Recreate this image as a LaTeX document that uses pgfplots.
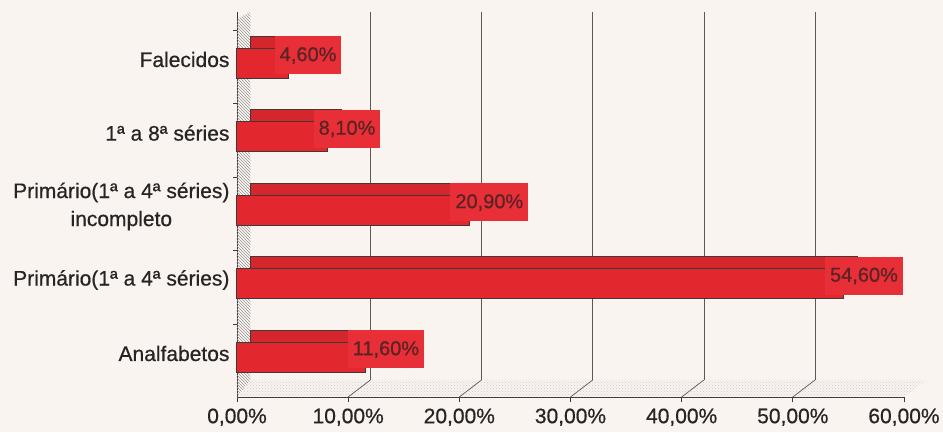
\documentclass[border=0pt]{standalone}
\usepackage{fontspec}
\setmainfont{Liberation Sans}[FakeBold=0.6]
\usepackage{pgfplots}
\pgfplotsset{compat=1.18}
\usetikzlibrary{patterns,backgrounds}
\definecolor{barred}{RGB}{226,40,46}
\definecolor{topred}{RGB}{212,38,44}
\definecolor{lblred}{RGB}{232,46,54}
\definecolor{edge}{RGB}{70,55,55}
\definecolor{bg}{RGB}{249,244,240}
\definecolor{txt}{RGB}{40,36,36}
\definecolor{lbltxt}{RGB}{90,35,38}
\begin{document}
\begin{tikzpicture}
\begin{axis}[
  scale only axis, width=667pt, height=385pt,
  xmin=0, xmax=60, ymin=-0.592, ymax=4.646,
  clip=false,
  axis x line*=bottom, axis y line*=left,
  separate axis lines,
  axis line style={edge, line width=0.8pt, -},
  x axis line style={-}, y axis line style={-},
  /pgf/number format/assume math mode=true,
  xtick={0,10,20,30,40,50,60},
  xticklabels={{0,00\%},{10,00\%},{20,00\%},{30,00\%},{40,00\%},{50,00\%},{60,00\%}},
  xtick style={edge, line width=0.8pt},
  major tick length=5pt, tick align=outside,
  xticklabel style={font=\fontsize{21}{24}\selectfont, text=txt, yshift=-3pt},
  ytick={0,1,2,3,4},
  yticklabels={Analfabetos,{Primário(1ª a 4ª séries)},{Primário(1ª a 4ª séries)\\incompleto},{1ª a 8ª séries},Falecidos},
  ytick style={draw=none},
  yticklabel style={align=center, font=\fontsize{21}{28}\selectfont, text=txt, xshift=1pt},
]
% left wall (decoration)
\fill[pattern=north west lines, pattern color=gray!80] (axis cs:0,-0.592) -- (axis cs:1.2,-0.36) -- (axis cs:1.2,4.646) -- (axis cs:0,4.55) -- cycle;
% floor (decoration)
\fill[pattern=crosshatch dots, pattern color=gray!40] (axis cs:0,-0.592) -- (axis cs:60,-0.592) -- (axis cs:62,-0.36) -- (axis cs:1.2,-0.36) -- cycle;
% back grid lines
\draw[edge!85, line width=0.7pt] (axis cs:12,-0.36) -- (axis cs:12,4.646);
\draw[edge!85, line width=0.7pt] (axis cs:22,-0.36) -- (axis cs:22,4.646);
\draw[edge!85, line width=0.7pt] (axis cs:32,-0.36) -- (axis cs:32,4.646);
\draw[edge!85, line width=0.7pt] (axis cs:42,-0.36) -- (axis cs:42,4.646);
\draw[edge!85, line width=0.7pt] (axis cs:52,-0.36) -- (axis cs:52,4.646);
% floor slashes
\draw[edge!85, line width=0.7pt] (axis cs:10,-0.592) -- (axis cs:12,-0.36);
\draw[edge!85, line width=0.7pt] (axis cs:20,-0.592) -- (axis cs:22,-0.36);
\draw[edge!85, line width=0.7pt] (axis cs:30,-0.592) -- (axis cs:32,-0.36);
\draw[edge!85, line width=0.7pt] (axis cs:40,-0.592) -- (axis cs:42,-0.36);
\draw[edge!85, line width=0.7pt] (axis cs:50,-0.592) -- (axis cs:52,-0.36);
% small ticks on the wall
\draw[edge, line width=0.8pt] (axis cs:0,0.4) -- ++(-4pt,0pt);
\draw[edge, line width=0.8pt] (axis cs:0,1.4) -- ++(-4pt,0pt);
\draw[edge, line width=0.8pt] (axis cs:0,2.4) -- ++(-4pt,0pt);
\draw[edge, line width=0.8pt] (axis cs:0,3.4) -- ++(-4pt,0pt);
\draw[edge, line width=0.8pt] (axis cs:0,4.4) -- ++(-4pt,0pt);
% top/back face of the bars
\addplot[xbar, bar width=30pt, bar shift=8pt, fill=topred, draw=edge, line width=1pt, xshift=14pt]
  coordinates {(11.6,0) (54.6,1) (20.9,2) (8.1,3) (4.6,4)};
% front face of the bars with labels
\addplot[xbar, bar width=30pt, bar shift=-4pt, fill=barred, draw=edge, line width=1pt,
  point meta=explicit symbolic, nodes near coords,
  every node near coord/.append style={anchor=center, xshift=20pt, yshift=4pt,
     fill=lblred, text=lbltxt, inner xsep=5pt, inner ysep=0pt, minimum height=38pt,
     font=\fontsize{20}{22}\selectfont}]
  coordinates {(11.6,0) [{11,60\%}] (54.6,1) [{54,60\%}] (20.9,2) [{20,90\%}] (8.1,3) [{8,10\%}] (4.6,4) [{4,60\%}]};
\coordinate (BL) at (rel axis cs:0,0);
\end{axis}
\pgfresetboundingbox
\path[use as bounding box] ([xshift=-237pt,yshift=-35pt]BL) rectangle ([xshift=706pt,yshift=397pt]BL);
\begin{scope}[on background layer]
\fill[bg] ([xshift=-237pt,yshift=-35pt]BL) rectangle ([xshift=706pt,yshift=397pt]BL);
\end{scope}
\end{tikzpicture}
\end{document}
